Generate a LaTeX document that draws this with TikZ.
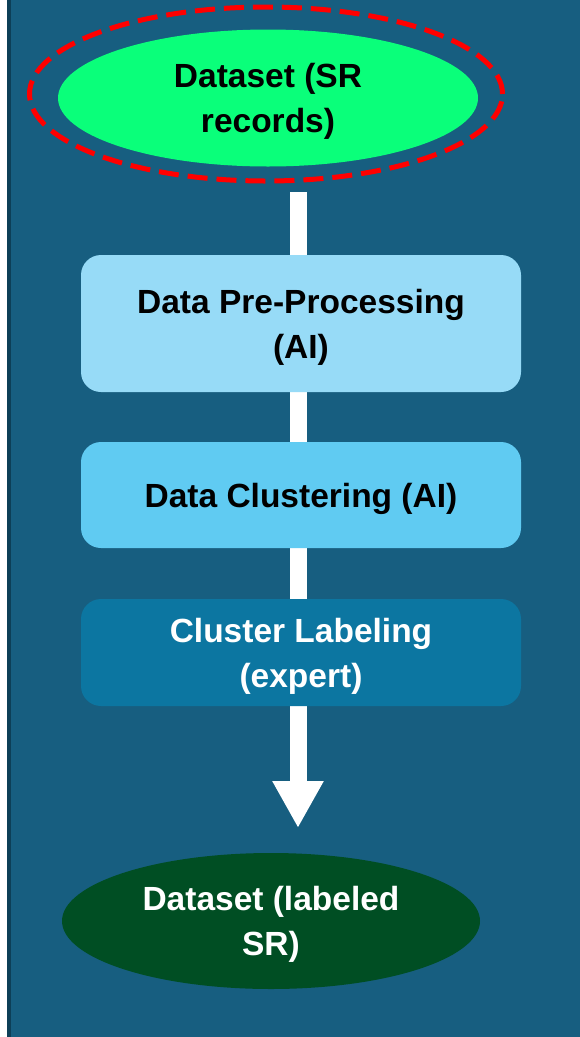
\documentclass[tikz,border=0pt]{standalone}
\usepackage{fontspec}
\setmainfont{Liberation Sans}
\usetikzlibrary{shapes.geometric,arrows.meta}
\pgfdeclarelayer{backdrop}
\pgfdeclarelayer{background}
\pgfsetlayers{backdrop,background,main}

\definecolor{panelblue}{RGB}{23,94,128}
\definecolor{paneledge}{RGB}{13,63,87}
\definecolor{startgreen}{RGB}{10,255,122}
\definecolor{endgreen}{RGB}{0,78,35}
\definecolor{stepone}{RGB}{151,219,247}
\definecolor{steptwo}{RGB}{96,203,242}
\definecolor{stepthree}{RGB}{12,118,161}

\tikzset{
  labeltext/.style={font=\fontsize{33.5}{45}\selectfont\bfseries, align=center,
                    text depth=0pt},
  terminal/.style={ellipse, labeltext, inner sep=0pt},
  stagebox/.style={rectangle, rounded corners=20pt, labeltext, inner sep=0pt,
                   minimum width=440pt},
  dashring/.style={ellipse, draw=red, line width=5pt,
                   dash pattern=on 20pt off 9pt, inner sep=0pt},
  flowarrow/.style={draw=white, line width=17pt,
                    -{Triangle[width=48pt,length=47pt]}}
}

\begin{document}
\begin{tikzpicture}[x=1pt,y=-1pt]
  % page and panel
  \begin{pgfonlayer}{backdrop}
    \fill[white] (0,0) rectangle (580,1037);
    \fill[panelblue] (7,0) rectangle (580,1037);
    \fill[paneledge] (7,0) rectangle (11,1037);
  \end{pgfonlayer}
  \useasboundingbox (0,0) rectangle (580,1037);

  % start and end datasets
  \node[dashring, minimum width=473pt, minimum height=174pt] (ring) at (266,94) {};
  \node[terminal, fill=startgreen, text=black,
        minimum width=420pt, minimum height=137pt] (start) at (268,98)
        {Dataset (SR\\records)};
  \node[terminal, fill=endgreen, text=white,
        minimum width=418pt, minimum height=136pt] (finish) at (271,921)
        {Dataset (labeled\\SR)};

  % processing stages
  \node[stagebox, fill=stepone, text=black, minimum height=137pt] (prep) at (301,323.5)
        {Data Pre-Processing\\(AI)};
  \node[stagebox, fill=steptwo, text=black, minimum height=106pt] (clust) at (301,495)
        {Data Clustering (AI)};
  \node[stagebox, fill=stepthree, text=white, minimum height=107pt] (label) at (301,652.5)
        {Cluster Labeling\\(expert)};

  % one flow arrow from the source dataset, running behind the stages
  \coordinate (flowstart) at (298,192);
  \coordinate (flowend) at (298,828);
  \begin{pgfonlayer}{background}
    \draw[flowarrow] (flowstart) -- (flowend);
  \end{pgfonlayer}
\end{tikzpicture}
\end{document}
